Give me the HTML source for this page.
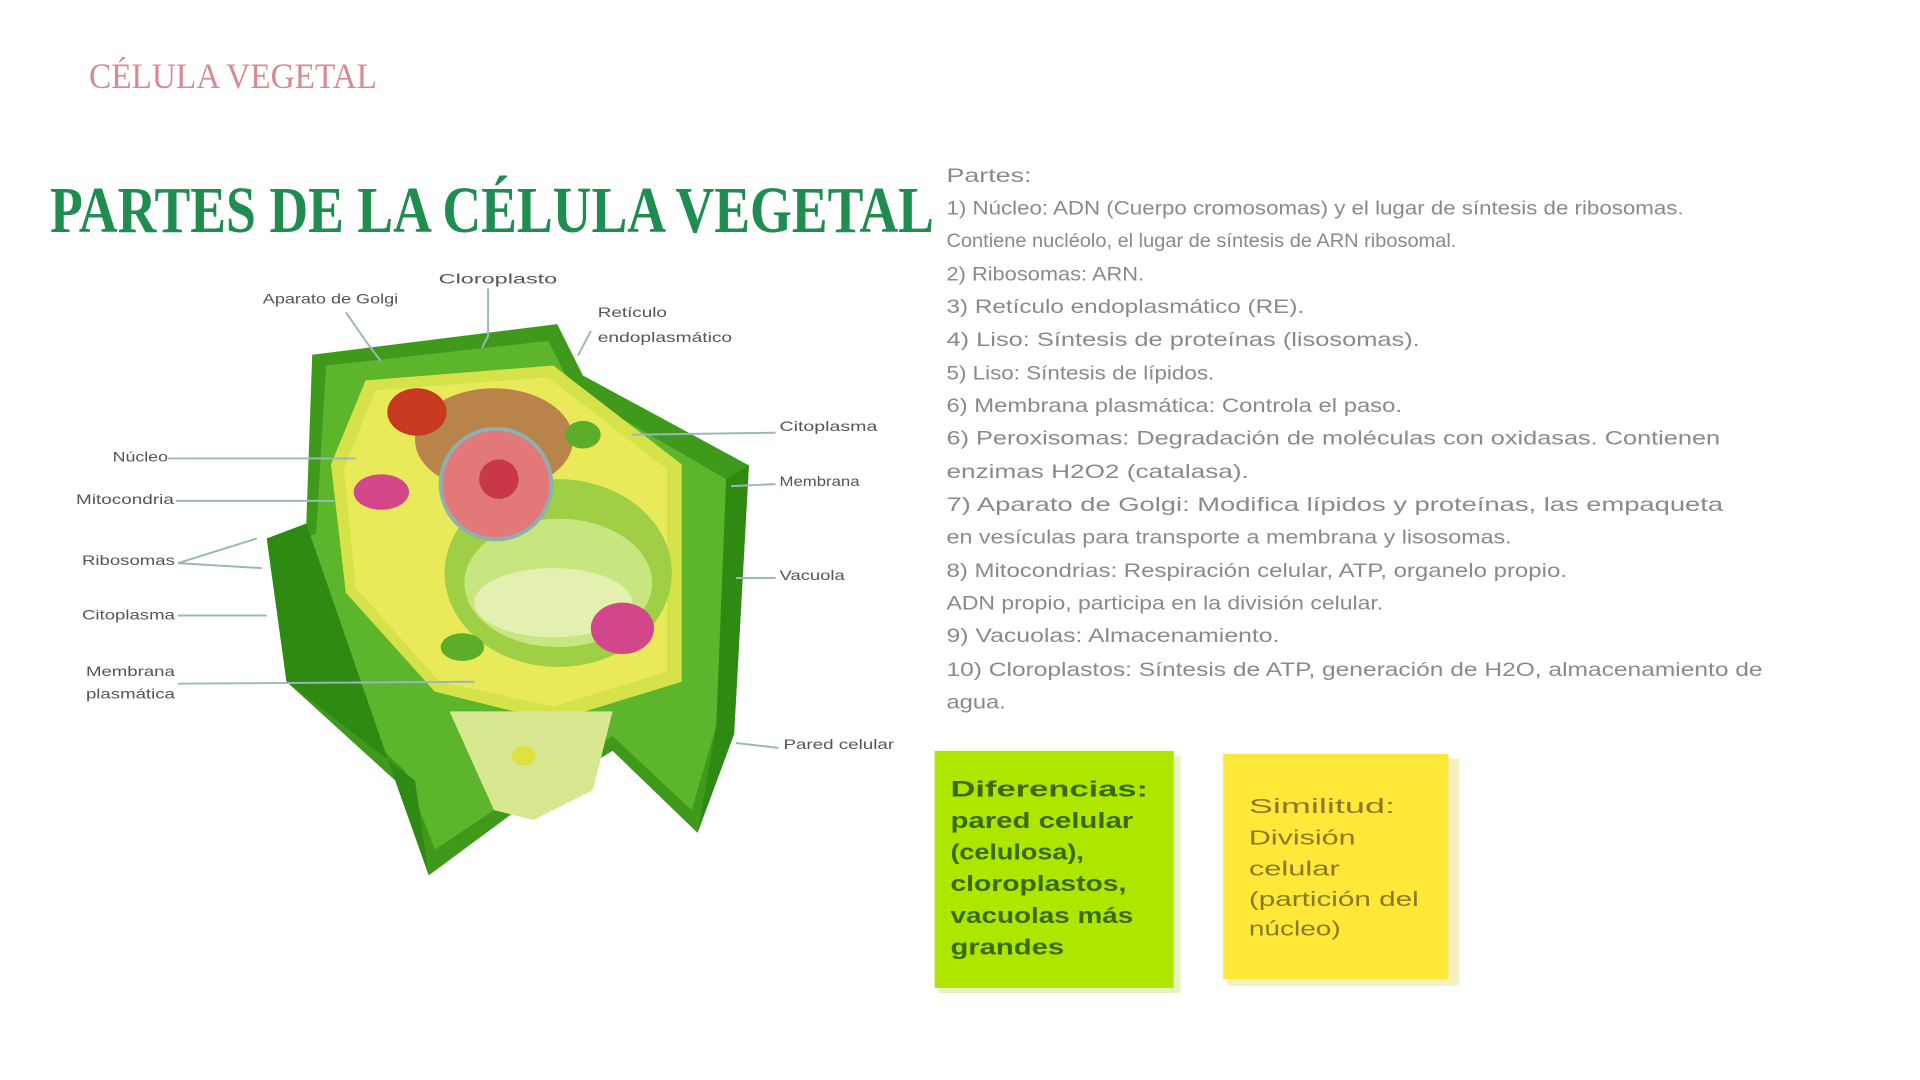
<!DOCTYPE html>
<html><head><meta charset="utf-8"><style>
html,body{margin:0;padding:0;background:#fff;width:1920px;height:1080px;overflow:hidden}
</style></head><body>
<svg width="1920" height="1080" viewBox="0 0 1920 1080" xmlns="http://www.w3.org/2000/svg" font-family="Liberation Sans, sans-serif">
<rect width="1920" height="1080" fill="#fff"/>
<text x="89" y="88" font-family="Liberation Serif, serif" font-size="36" fill="#d88a90" textLength="288" lengthAdjust="spacingAndGlyphs">CÉLULA VEGETAL</text>
<text x="50" y="232" font-family="Liberation Serif, serif" font-weight="bold" font-size="66" fill="#1f8c50" textLength="884" lengthAdjust="spacingAndGlyphs">PARTES DE LA CÉLULA VEGETAL</text>

<g transform="scale(0.988)">
<!-- cell -->
<g>
<polygon points="316,359 564,328 590,380 758,471 743,743 706,843 620,760 530,815 434,886 400,790 290,690 270,545 310,530" fill="#3f9a1c"/>
<polygon points="330,370 555,345 580,395 735,485 725,735 700,820 620,745 530,800 440,860 410,780 300,680 285,555 320,540" fill="#5cb52a"/>
<polygon points="370,385 560,370 690,470 690,690 560,730 440,700 350,600 335,470" fill="#d6e24a"/>
<polygon points="380,395 555,382 675,475 675,680 560,715 445,690 360,595 348,475" fill="#e8ea5a"/>
<ellipse cx="565" cy="580" rx="115" ry="95" fill="#9fcf45"/>
<ellipse cx="565" cy="590" rx="95" ry="65" fill="#c8e680"/>
<ellipse cx="560" cy="610" rx="80" ry="35" fill="#e4f0b0"/>
<polygon points="455,720 620,720 600,800 540,830 500,820" fill="#d8e890"/>
<ellipse cx="530" cy="765" rx="12" ry="10" fill="#e0e040"/>
<ellipse cx="500" cy="445" rx="80" ry="52" fill="#b9844a"/>
<circle cx="502" cy="490" r="58" fill="#8fb0b0"/>
<circle cx="502" cy="490" r="54" fill="#e27878"/>
<circle cx="505" cy="485" r="20" fill="#c83848"/>
<ellipse cx="422" cy="417" rx="30" ry="24" fill="#c63a22"/>
<ellipse cx="386" cy="498" rx="28" ry="18" fill="#d2468a"/>
<ellipse cx="630" cy="636" rx="32" ry="26" fill="#d2468a"/>
<ellipse cx="590" cy="440" rx="18" ry="14" fill="#5cae2a"/>
<ellipse cx="468" cy="655" rx="22" ry="14" fill="#5cae2a"/>
<polygon points="270,545 310,530 400,790 434,886 420,790 290,690" fill="#2f8a14"/>
<polygon points="706,843 743,743 758,471 735,485 725,735" fill="#2f8a14"/>
</g>

<g stroke="#9ab8b8" stroke-width="2" fill="none">
<path d="M350,316 L370,345 L385,365"/>
<path d="M494,292 L494,340 L488,352"/>
<path d="M598,335 L585,360"/>
<path d="M785,438 L640,440"/>
<path d="M785,490 L740,492"/>
<path d="M785,585 L745,585"/>
<path d="M788,757 L745,752"/>
<path d="M170,464 L360,464"/>
<path d="M178,507 L340,507"/>
<path d="M180,570 L260,545"/>
<path d="M180,570 L265,575"/>
<path d="M180,623 L270,623"/>
<path d="M180,692 L480,690"/>
</g>
<g font-size="14" fill="#555">
<text x="266" y="307" textLength="137" lengthAdjust="spacingAndGlyphs">Aparato de Golgi</text>
<text x="444" y="287" textLength="120" lengthAdjust="spacingAndGlyphs">Cloroplasto</text>
<text x="605" y="321" textLength="70" lengthAdjust="spacingAndGlyphs">Retículo</text>
<text x="605" y="346" textLength="136" lengthAdjust="spacingAndGlyphs">endoplasmático</text>
<text x="789" y="436" textLength="99" lengthAdjust="spacingAndGlyphs">Citoplasma</text>
<text x="789" y="492" textLength="81" lengthAdjust="spacingAndGlyphs">Membrana</text>
<text x="789" y="587" textLength="66" lengthAdjust="spacingAndGlyphs">Vacuola</text>
<text x="793" y="758" textLength="112" lengthAdjust="spacingAndGlyphs">Pared celular</text>
<text x="114" y="467" textLength="56" lengthAdjust="spacingAndGlyphs">Núcleo</text>
<text x="77" y="510" textLength="99" lengthAdjust="spacingAndGlyphs">Mitocondria</text>
<text x="83" y="572" textLength="94" lengthAdjust="spacingAndGlyphs">Ribosomas</text>
<text x="83" y="627" textLength="94" lengthAdjust="spacingAndGlyphs">Citoplasma</text>
<text x="87" y="684" textLength="90" lengthAdjust="spacingAndGlyphs">Membrana</text>
<text x="87" y="707" textLength="90" lengthAdjust="spacingAndGlyphs">plasmática</text>
</g>

<g font-size="20" fill="#8a8a8a">
<text x="958" y="184" textLength="86" lengthAdjust="spacingAndGlyphs">Partes:</text>
<text x="958" y="217" textLength="746" lengthAdjust="spacingAndGlyphs">1) Núcleo: ADN (Cuerpo cromosomas) y el lugar de síntesis de ribosomas.</text>
<text x="958" y="250" textLength="516" lengthAdjust="spacingAndGlyphs">Contiene nucléolo, el lugar de síntesis de ARN ribosomal.</text>
<text x="958" y="284" textLength="200" lengthAdjust="spacingAndGlyphs">2) Ribosomas: ARN.</text>
<text x="958" y="317" textLength="362" lengthAdjust="spacingAndGlyphs">3) Retículo endoplasmático (RE).</text>
<text x="958" y="350" textLength="479" lengthAdjust="spacingAndGlyphs">4) Liso: Síntesis de proteínas (lisosomas).</text>
<text x="958" y="384" textLength="271" lengthAdjust="spacingAndGlyphs">5) Liso: Síntesis de lípidos.</text>
<text x="958" y="417" textLength="461" lengthAdjust="spacingAndGlyphs">6) Membrana plasmática: Controla el paso.</text>
<text x="958" y="450" textLength="783" lengthAdjust="spacingAndGlyphs">6) Peroxisomas: Degradación de moléculas con oxidasas. Contienen</text>
<text x="958" y="484" textLength="306" lengthAdjust="spacingAndGlyphs">enzimas H2O2 (catalasa).</text>
<text x="958" y="517" textLength="786" lengthAdjust="spacingAndGlyphs">7) Aparato de Golgi: Modifica lípidos y proteínas, las empaqueta</text>
<text x="958" y="550" textLength="572" lengthAdjust="spacingAndGlyphs">en vesículas para transporte a membrana y lisosomas.</text>
<text x="958" y="584" textLength="628" lengthAdjust="spacingAndGlyphs">8) Mitocondrias: Respiración celular, ATP, organelo propio.</text>
<text x="958" y="617" textLength="442" lengthAdjust="spacingAndGlyphs">ADN propio, participa en la división celular.</text>
<text x="958" y="650" textLength="337" lengthAdjust="spacingAndGlyphs">9) Vacuolas: Almacenamiento.</text>
<text x="958" y="684" textLength="826" lengthAdjust="spacingAndGlyphs">10) Cloroplastos: Síntesis de ATP, generación de H2O, almacenamiento de</text>
<text x="958" y="717" textLength="60" lengthAdjust="spacingAndGlyphs">agua.</text>
</g>

<rect x="950" y="765" width="245" height="240" fill="#e8f4c0"/>
<rect x="946" y="760" width="242" height="240" fill="#afe600"/>
<g font-size="22" font-weight="bold" fill="#3a6a10">
<text x="962" y="806" textLength="200" lengthAdjust="spacingAndGlyphs">Diferencias:</text>
<text x="962" y="838" textLength="185" lengthAdjust="spacingAndGlyphs">pared celular</text>
<text x="962" y="870" textLength="135" lengthAdjust="spacingAndGlyphs">(celulosa),</text>
<text x="962" y="902" textLength="178" lengthAdjust="spacingAndGlyphs">cloroplastos,</text>
<text x="962" y="934" textLength="185" lengthAdjust="spacingAndGlyphs">vacuolas más</text>
<text x="962" y="966" textLength="115" lengthAdjust="spacingAndGlyphs">grandes</text>
</g>
<rect x="1242" y="768" width="235" height="230" fill="#f6f0c0"/>
<rect x="1238" y="763" width="228" height="228" fill="#ffe838"/>
<g font-size="21" fill="#8a7a28">
<text x="1264" y="823" textLength="148" lengthAdjust="spacingAndGlyphs">Similitud:</text>
<text x="1264" y="855" textLength="108" lengthAdjust="spacingAndGlyphs">División</text>
<text x="1264" y="886" textLength="92" lengthAdjust="spacingAndGlyphs">celular</text>
<text x="1264" y="917" textLength="172" lengthAdjust="spacingAndGlyphs">(partición del</text>
<text x="1264" y="947" textLength="93" lengthAdjust="spacingAndGlyphs">núcleo)</text>
</g>
</g>
</svg>
</body></html>
